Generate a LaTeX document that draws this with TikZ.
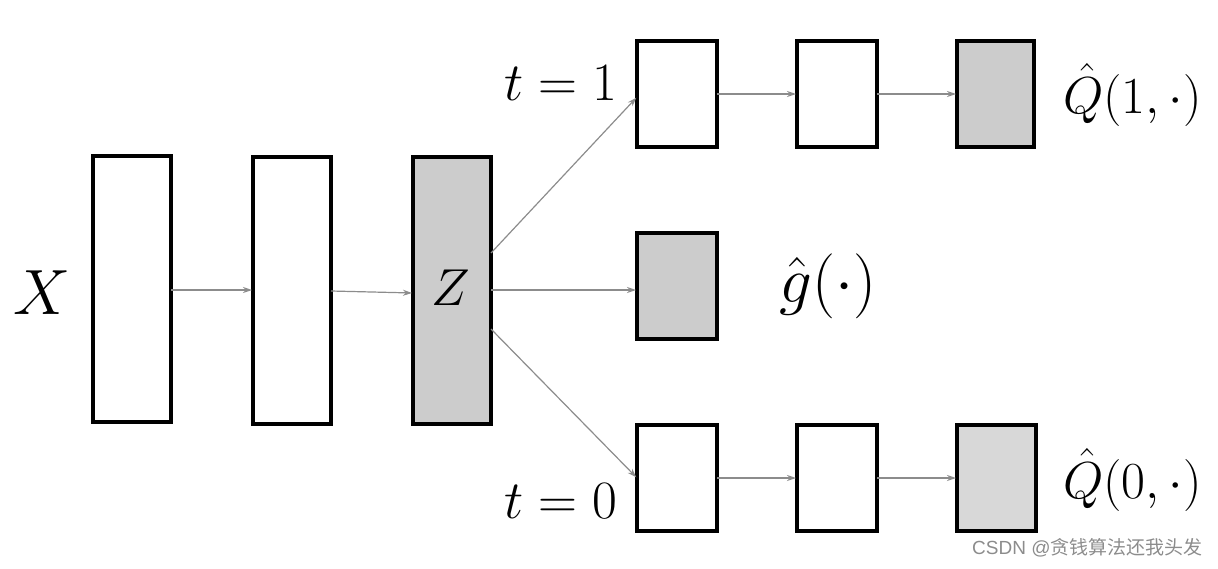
\documentclass[tikz,border=0pt]{standalone}
\usepackage{fix-cm}
\usepackage{fontspec}
\newfontfamily\cjk{Noto Sans CJK SC}
\newfontfamily\wmlatin{Liberation Sans}
\usetikzlibrary{arrows.meta}
\definecolor{boxgray}{RGB}{204,204,204}
\definecolor{boxgraylight}{RGB}{216,216,216}
\definecolor{arrgray}{RGB}{140,140,140}
\tikzset{
  blk/.style={draw=black, line width=3.1pt, fill=white, inner sep=0pt, outer sep=0pt},
  grayblk/.style={blk, fill=boxgray},
  conn/.style={draw=arrgray, line width=1.2pt, -{Stealth[length=9pt,width=6pt]}, shorten >=1pt},
  lbl/.style={inner sep=0pt, font=\fontsize{54}{58}\selectfont},
  biglbl/.style={inner sep=0pt, font=\fontsize{52}{56}\selectfont}
}
\begin{document}
\begin{tikzpicture}[x=1pt,y=-1pt]
\useasboundingbox (0,0) rectangle (1218,568);
% main column boxes
\node[blk, minimum width=78pt, minimum height=266pt] (b1) at (132,289) {};
\node[blk, minimum width=78pt, minimum height=267pt] (b2) at (292,290.5) {};
\node[grayblk, minimum width=78pt, minimum height=267pt] (b3) at (452,290.5) {};
\node[inner sep=0pt, font=\fontsize{52}{56}\selectfont] (zl) at (451,288) {$Z$};
\node[inner sep=0pt, font=\fontsize{64}{70}\selectfont] (xl) at (42,293) {$X$};
% top row
\node[blk, minimum width=80pt, minimum height=106pt] (t1) at (677,94) {};
\node[blk, minimum width=80pt, minimum height=106pt] (t2) at (837,94) {};
\node[grayblk, minimum width=77pt, minimum height=106pt] (t3) at (995.5,94) {};
% middle
\node[grayblk, minimum width=80pt, minimum height=106pt] (m1) at (677,286) {};
% bottom row
\node[blk, minimum width=80pt, minimum height=106pt] (u1) at (677,478) {};
\node[blk, minimum width=80pt, minimum height=106pt] (u2) at (837,478) {};
\node[blk, fill=boxgraylight, minimum width=79pt, minimum height=106pt] (u3) at (996.5,478) {};
% labels
\node[lbl, anchor=base] (tt1) at (561,100) {$t=1$};
\node[lbl, anchor=base] (tt0) at (561,518) {$t=0$};
\node[biglbl, anchor=base west] (q1) at (1063,113) {$\hat{Q}(1,\cdot)$};
\node[biglbl, anchor=base west] (q0) at (1063,498) {$\hat{Q}(0,\cdot)$};
\node[inner sep=0pt, anchor=base west, font=\fontsize{65}{70}\selectfont] (gl) at (779,302) {$\hat{g}(\cdot)$};
% connectors
\draw[conn] (b1.east |- 0,290) -- (b2.west |- 0,290);
\draw[conn] (b2.east |- 0,291) -- (b3.west |- 0,293);
\draw[conn] (b3.east |- 0,253) -- (t1.west |- 0,97);
\draw[conn] (b3.east |- 0,290) -- (m1.west |- 0,290);
\draw[conn] (b3.east |- 0,329) -- (u1.west |- 0,478);
\draw[conn] (t1.east |- 0,94) -- (t2.west |- 0,94);
\draw[conn] (t2.east |- 0,94) -- (t3.west |- 0,94);
\draw[conn] (u1.east |- 0,478) -- (u2.west |- 0,478);
\draw[conn] (u2.east |- 0,478) -- (u3.west |- 0,478);
% watermark
\node[inner sep=0pt, anchor=west, text=black!45, font=\fontsize{19}{21}\selectfont] (wm) at (972,548) {\wmlatin CSDN @\cjk 贪钱算法还我头发};
\end{tikzpicture}
\end{document}
